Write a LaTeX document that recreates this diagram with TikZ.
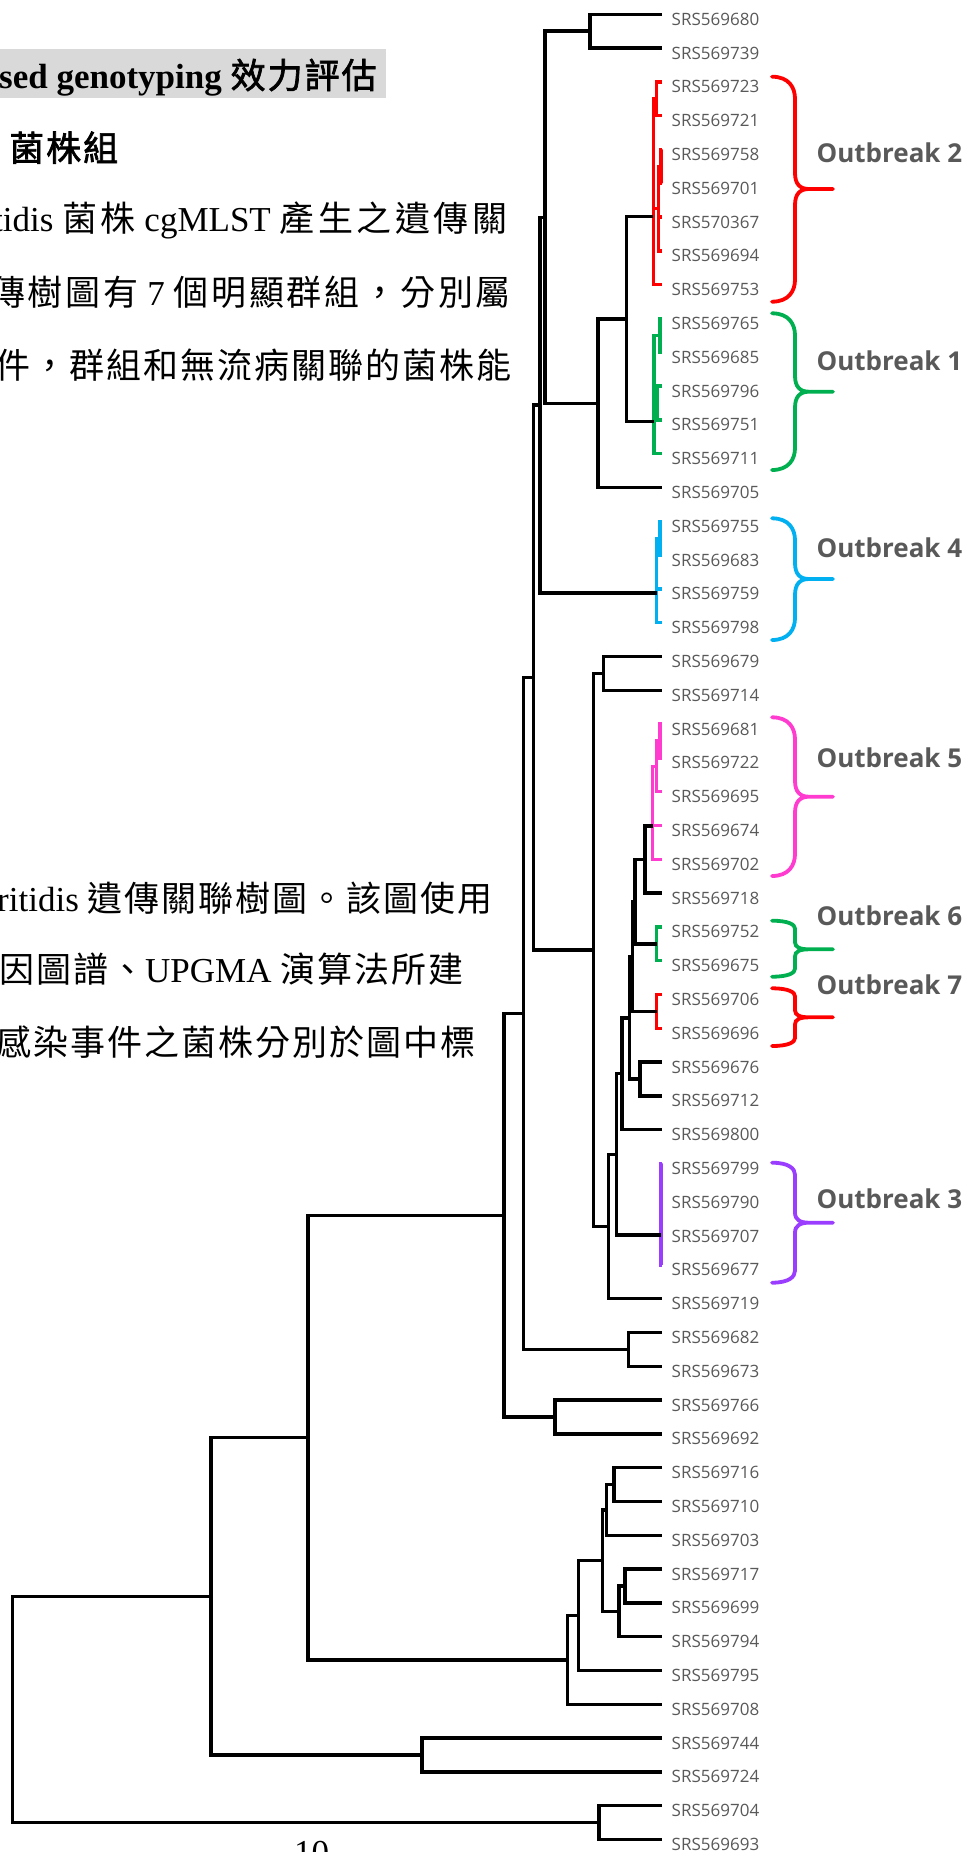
\documentclass[tikz,border=0pt]{standalone}
\usepackage{fontspec}
\setmainfont{Liberation Serif}
\newfontfamily\cjkf[LetterSpace=5.7,AutoFakeBold=2]{Noto Sans CJK TC}
\newfontfamily\cjka[LetterSpace=10]{Noto Sans CJK TC}
\newfontfamily\cjkb[LetterSpace=8]{Noto Sans CJK TC}
\newfontfamily\osans{Open Sans}
\newcommand\zh[1]{{\cjkf #1}}
\newcommand\zha[1]{{\cjka #1}}
\newcommand\zhb[1]{{\cjkb #1}}
\definecolor{obred}{HTML}{FF0000}
\definecolor{obgreen}{HTML}{00B050}
\definecolor{obblue}{HTML}{00B0F0}
\definecolor{obmag}{HTML}{FF3CCF}
\definecolor{obpurple}{HTML}{9B3DFF}
\definecolor{labgray}{HTML}{595959}
\definecolor{headgray}{HTML}{D9D9D9}
% brace: colour, top, tip, bottom, corner size, tip size
\newcommand\obrace[6]{%
  \draw[bracestyle,#1] (772,#2) .. controls (789,#2) and (795,{#2+0.5*#5}) .. (795,{#2+#5})
    -- (795,{#3-#6}) .. controls (795,{#3-0.3*#6}) and (800,#3) .. (809,#3) -- (833,#3)
    (809,#3) .. controls (800,#3) and (795,{#3+0.3*#6}) .. (795,{#3+#6})
    -- (795,{#4-#5}) .. controls (795,{#4-0.5*#5}) and (789,#4) .. (772,#4);}
\begin{document}
\begin{tikzpicture}[x=1pt,y=-1pt,
  tree/.style={line width=3.4pt,line join=miter},
  bracestyle/.style={line width=3.8pt,line cap=round},
  leaf/.style={anchor=base west,inner sep=0pt,text=labgray,font=\osans\fontsize{17}{17}\selectfont},
  oblab/.style={anchor=base west,inner sep=0pt,text=labgray,font=\osans\bfseries\fontsize{26}{26}\selectfont},
  body/.style={anchor=base west,inner sep=0pt,font=\fontsize{35}{35}\selectfont}]
\useasboundingbox (0,0) rectangle (979,1852);
\clip (0,0) rectangle (979,1852);
\fill[white] (0,0) rectangle (979,1852);

% ---------------- text on the left ----------------
\fill[headgray] (0,49) rectangle (386,97.7);
\node[body] (h1) at (-1,88.3) {\bfseries sed genotyping \zh{效力評估}};
\node[body] (h2) at (9,161) {\bfseries\zh{菌株組}};
\node[body] (p1) at (-7,231.7) {tidis \zha{菌株} cgMLST \zha{產生之遺傳關}};
\node[body] (p2) at (-10,305) {\zhb{傳樹圖有} 7 \zhb{個明顯群組，分別屬}};
\node[body] (p3) at (-5,378.5) {\zh{件，群組和無流病關聯的菌株能}};
\node[body] (q1) at (-3,911.5) {ritidis \zh{遺傳關聯樹圖。該圖使用}};
\node[body] (q2) at (-1,982) {\zh{因圖譜、}UPGMA \zh{演算法所建}};
\node[body] (q3) at (-4,1055.5) {\zh{感染事件之菌株分別於圖中標}};
\node[body] (pg) at (294,1864) {10};

% ---------------- leaves ----------------
\foreach \n [count=\i] in {SRS569680,SRS569739,SRS569723,SRS569721,SRS569758,SRS569701,SRS570367,SRS569694,SRS569753,SRS569765,SRS569685,SRS569796,SRS569751,SRS569711,SRS569705,SRS569755,SRS569683,SRS569759,SRS569798,SRS569679,SRS569714,SRS569681,SRS569722,SRS569695,SRS569674,SRS569702,SRS569718,SRS569752,SRS569675,SRS569706,SRS569696,SRS569676,SRS569712,SRS569800,SRS569799,SRS569790,SRS569707,SRS569677,SRS569719,SRS569682,SRS569673,SRS569766,SRS569692,SRS569716,SRS569710,SRS569703,SRS569717,SRS569699,SRS569794,SRS569795,SRS569708,SRS569744,SRS569724,SRS569704,SRS569693}{
  \coordinate (L\i) at (662,{14.3+33.8*(\i-1)});
  \node[leaf] (S\i) at (671.5,{25.3+33.8*(\i-1)}) {\n};
}

% ---------------- internal nodes ----------------
\coordinate (n12) at (590,31.2);
\coordinate (r34) at (656.7,98.8);
\coordinate (r56) at (661,166.4);
\coordinate (r5678) at (658.5,208.7);
\coordinate (rR) at (653.3,216.7);
\coordinate (g1011) at (660,335.4);
\coordinate (g1213) at (657,403);
\coordinate (gR) at (654,421.7);
\coordinate (n627) at (626.7,319);
\coordinate (n598) at (598,403.2);
\coordinate (n545) at (545,217.2);
\coordinate (b1617) at (660,538.2);
\coordinate (bR) at (656.7,593);
\coordinate (n540) at (540,405);
\coordinate (n2021) at (603.3,673.4);
\coordinate (m2223) at (660,741);
\coordinate (mA) at (656.7,766.4);
\coordinate (mR) at (652.5,826);
\coordinate (n645) at (645,859.5);
\coordinate (g6) at (656.7,943.8);
\coordinate (nA) at (635,901.6);
\coordinate (r7) at (656.7,1011.4);
\coordinate (nB) at (632.5,956.5);
\coordinate (n3233) at (640,1079);
\coordinate (nC) at (629.5,1017.8);
\coordinate (nD) at (622,1073.7);
\coordinate (pR) at (661,1235);
\coordinate (nE) at (616.7,1154.4);
\coordinate (nF) at (608.3,1226.5);
\coordinate (nG) at (593.3,950);
\coordinate (nH) at (533.5,677.5);
\coordinate (n4041) at (628.3,1349.4);
\coordinate (nI) at (523.3,1013.5);
\coordinate (n4243) at (555,1417);
\coordinate (nJ) at (504,1215.3);
\coordinate (n4445) at (614,1484.6);
\coordinate (n46) at (606.7,1510);
\coordinate (n4748) at (625,1586);
\coordinate (n49) at (619,1611.4);
\coordinate (nP) at (602.7,1560.7);
\coordinate (nQ) at (578.3,1615.6);
\coordinate (nR) at (567.3,1660);
\coordinate (nK) at (308,1437.6);
\coordinate (n5253) at (422,1755);
\coordinate (nL) at (211,1596.3);
\coordinate (n5455) at (599,1822.6);
\coordinate (root) at (12.5,1709.5);

% ---------------- coloured clusters ----------------
\begin{scope}[tree,obred]
  \draw (r34) -| (rR) |- (L9);
  \draw (rR |- r5678) -- (r5678);
  \draw (L3) -| (r34) |- (L4);
  \draw (r56) -| (r5678) |- (L8);
  \draw (r5678 |- L7) -- (L7);
  \draw (L5) -| (r56) |- (L6);
  \draw (L30) -| (r7) |- (L31);
\end{scope}
\begin{scope}[tree,obgreen]
  \draw (g1011) -| (gR) |- (L14);
  \draw (gR |- g1213) -- (g1213);
  \draw (L10) -| (g1011) |- (L11);
  \draw (L12) -| (g1213) |- (L13);
  \draw (L28) -| (g6) |- (L29);
\end{scope}
\begin{scope}[tree,obblue]
  \draw (b1617) -| (bR) |- (L19);
  \draw (bR |- L18) -- (L18);
  \draw (L16) -| (b1617) |- (L17);
\end{scope}
\begin{scope}[tree,obmag]
  \draw (L22) -| (m2223) |- (L23);
  \draw (m2223) -| (mA) |- (L24);
  \draw (mA) -| (mR) |- (L26);
  \draw (mR |- L25) -- (L25);
\end{scope}
\begin{scope}[tree,obpurple]
  \draw (L35) -| (pR) |- (L38);
\end{scope}

% ---------------- black tree ----------------
\begin{scope}[tree,black]
  \draw (L1) -| (n12) |- (L2);
  \draw (n12) -| (n545) |- (n598);
  \draw (n627) -| (n598) |- (L15);
  \draw (rR) -| (n627) |- (gR);
  \draw (n545) -| (n540) |- (bR);
  \draw (n540) -| (nH) |- (nG);
  \draw (n2021) -| (nG) |- (nF);
  \draw (L20) -| (n2021) |- (L21);
  \draw (nE) -| (nF) |- (L39);
  \draw (nD) -| (nE) |- (pR);
  \draw (nC) -| (nD) |- (L34);
  \draw (nB) -| (nC) |- (n3233);
  \draw (L32) -| (n3233) |- (L33);
  \draw (nA) -| (nB) |- (r7);
  \draw (n645) -| (nA) |- (g6);
  \draw (mR) -| (n645) |- (L27);
  \draw (nH) -| (nI) |- (n4041);
  \draw (L40) -| (n4041) |- (L41);
  \draw (nI) -| (nJ) |- (n4243);
  \draw (L42) -| (n4243) |- (L43);
  \draw (nJ) -| (nK) |- (nR);
  \draw (nQ) -| (nR) |- (L51);
  \draw (nP) -| (nQ) |- (L50);
  \draw (n46) -| (nP) |- (n49);
  \draw (n4445) -| (n46) |- (L46);
  \draw (L44) -| (n4445) |- (L45);
  \draw (n4748) -| (n49) |- (L49);
  \draw (L47) -| (n4748) |- (L48);
  \draw (nK) -| (nL) |- (n5253);
  \draw (L52) -| (n5253) |- (L53);
  \draw (nL) -| (root) |- (n5455);
  \draw (L54) -| (n5455) |- (L55);
\end{scope}

% ---------------- outbreak braces and labels ----------------
\obrace{obred}{76.7}{189}{301.7}{22}{16}
\obrace{obgreen}{313.3}{391.7}{470}{22}{16}
\obrace{obblue}{518.3}{579}{640}{22}{16}
\obrace{obmag}{717.3}{796.7}{876}{22}{16}
\obrace{obgreen}{920.7}{949.3}{976.7}{8}{7}
\obrace{obred}{988.3}{1017.3}{1046}{8}{7}
\obrace{obpurple}{1162.7}{1222.7}{1282.7}{12}{10}

\node[oblab] (o2) at (816.4,162.3) {Outbreak 2};
\node[oblab] (o1) at (816.4,370) {Outbreak 1};
\node[oblab] (o4) at (816.4,557.3) {Outbreak 4};
\node[oblab] (o5) at (816.4,767.3) {Outbreak 5};
\node[oblab] (o6) at (816.4,925) {Outbreak 6};
\node[oblab] (o7) at (816.4,994.3) {Outbreak 7};
\node[oblab] (o3) at (816.4,1208.3) {Outbreak 3};
\end{tikzpicture}
\end{document}
